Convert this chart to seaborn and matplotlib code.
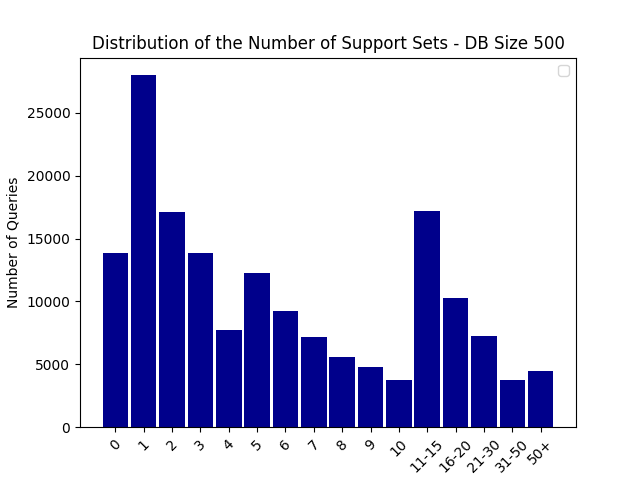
import pandas as pd
import matplotlib
matplotlib.use('Agg')
import matplotlib.pyplot as plt
import seaborn as sns

# Data
categories = ['0', '1', '2', '3', '4', '5', '6', '7', '8', '9', '10',
              '11-15', '16-20', '21-30', '31-50', '50+']
num_queries = [13850, 28000, 17090, 13850, 7700, 12240, 9210, 7140, 5560,
               4750, 3720, 17170, 10250, 7220, 3720, 4510]

df = pd.DataFrame({'support_sets': categories, 'queries': num_queries})

fig, ax = plt.subplots(figsize=(6.4, 4.8), dpi=100)
sns.barplot(data=df, x='support_sets', y='queries', color='darkblue',
            saturation=1, width=0.9, ax=ax)

n = len(categories)
pad = (n - 1 + 0.9) * 0.05
ax.set_xlim(-0.45 - pad, n - 1 + 0.45 + pad)
ax.set_ylim(0, max(num_queries) * 1.05)

ax.set_title('Distribution of the Number of Support Sets - DB Size 500')
ax.set_xlabel('')
ax.set_ylabel('Number of Queries')
plt.xticks(rotation=45)
ax.legend()

plt.savefig('out.png')
